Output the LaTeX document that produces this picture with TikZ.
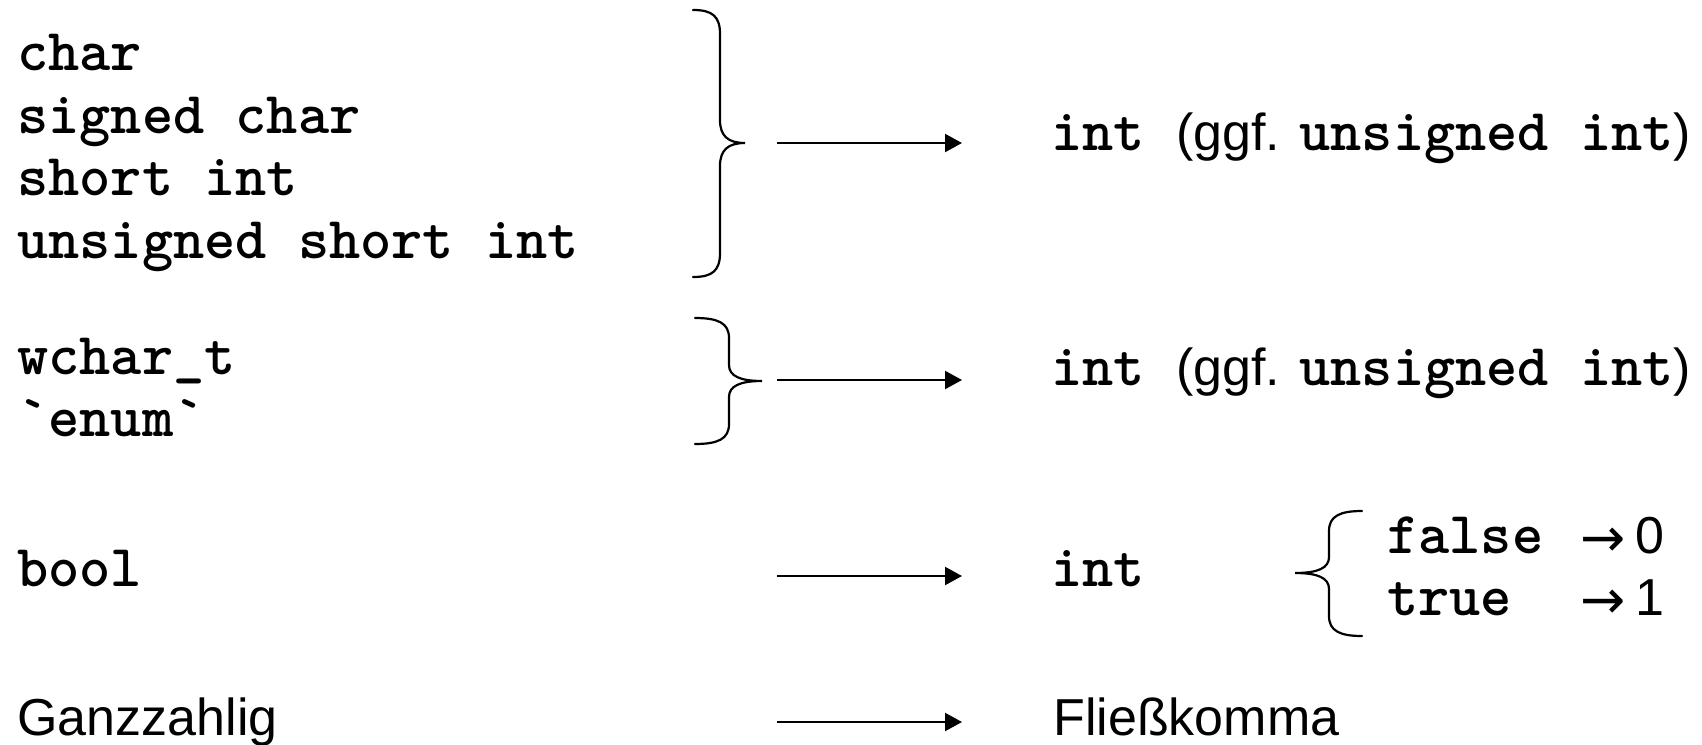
\documentclass[tikz,border=0pt]{standalone}
\usepackage{fontspec}
\setmainfont{Liberation Sans}
\newfontfamily\cmonofont{lmmonolt10-bold.otf}
\newfontfamily\arrowfont{DejaVu Sans}
\usetikzlibrary{arrows.meta}
\newcommand{\cmono}[1]{{\cmonofont\fontsize{29.7}{31}\selectfont #1}}
\newcommand{\marrow}{\raisebox{-1.5pt}{\arrowfont\fontsize{27}{29}\selectfont →}}
\begin{document}
\begin{tikzpicture}[x=0.5pt,y=-0.5pt,
  txt/.style={anchor=base west, inner sep=0pt, font=\fontsize{26}{31}\selectfont},
  code/.style={anchor=base west, inner sep=0pt, font=\cmonofont\fontsize{29.7}{31}\selectfont},
  arr/.style={line width=1.1pt, -{Triangle[length=8.5pt,width=9pt]}},
  bracepath/.style={line width=1.1pt, line cap=round}]
\useasboundingbox (0,0) rectangle (1702,744);

% left column
\node[code] (l1) at (17,70) {char};
\node[code] (l2) at (17,133) {signed char};
\node[code] (l3) at (17,195) {short int};
\node[code] (l4) at (17,258) {unsigned short int};
\node[code] (w1) at (17,374) {wchar\_t};
\node[code] (w2) at (17,436) {`enum`};
\node[code] (b1) at (17,586) {bool};
\node[txt]  (g1) at (17,735) {Ganzzahlig};

% braces
\draw[bracepath] (693,10) .. controls (712,10) and (720,16) .. (720,34)
  -- (720,120) .. controls (720,136) and (728,143) .. (745,143)
  .. controls (728,143) and (720,150) .. (720,166)
  -- (720,253) .. controls (720,271) and (712,277) .. (693,277);
\draw[bracepath] (695,318) .. controls (718,318) and (729,323) .. (729,338)
  -- (729,365) .. controls (729,376) and (740,381) .. (762,381)
  .. controls (740,381) and (729,386) .. (729,397)
  -- (729,424) .. controls (729,439) and (718,444) .. (695,444);
\draw[bracepath] (1362,511) .. controls (1340,511) and (1329,516) .. (1329,531)
  -- (1329,557) .. controls (1329,568) and (1318,573) .. (1295,573)
  .. controls (1318,573) and (1329,578) .. (1329,589)
  -- (1329,616) .. controls (1329,631) and (1340,636) .. (1362,636);

% arrows
\coordinate (a1s) at (777,143); \coordinate (a1e) at (962,143);
\coordinate (a2s) at (777,380); \coordinate (a2e) at (962,380);
\coordinate (a3s) at (777,576); \coordinate (a3e) at (962,576);
\coordinate (a4s) at (777,722); \coordinate (a4e) at (962,722);
\draw[arr] (a1s) -- (a1e);
\draw[arr] (a2s) -- (a2e);
\draw[arr] (a3s) -- (a3e);
\draw[arr] (a4s) -- (a4e);

% right column
\node[txt] (r1) at (1051,150) {\cmono{int }(ggf. \cmono{unsigned int})};
\node[txt] (r2) at (1051,385) {\cmono{int }(ggf. \cmono{unsigned int})};
\node[code] (r3) at (1051,586) {int};
\node[txt] (r4) at (1053,735) {Fließkomma};

\node[code] (f) at (1387,553) {false};
\node[code] (t) at (1387,615) {true};
\node[txt] (f0) at (1580,553) {\marrow\hspace{5pt}0};
\node[txt] (t1) at (1580,615) {\marrow\hspace{5pt}1};
\end{tikzpicture}
\end{document}
